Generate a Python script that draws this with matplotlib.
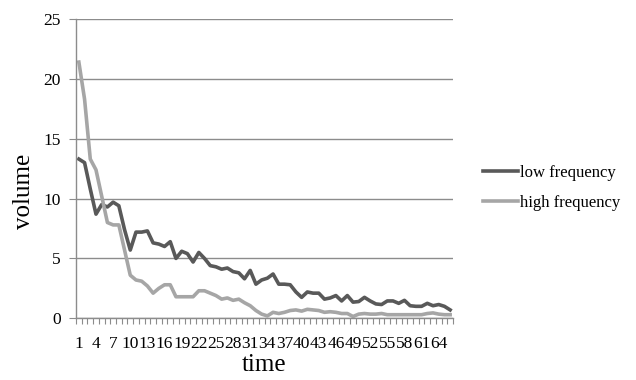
import numpy as np
import matplotlib.pyplot as plt

# valores
low_freq = [13.3, 13.0, 10.8, 8.7, 9.5, 9.3, 9.7, 9.4, 7.4, 5.7,
            7.2, 7.2, 7.3, 6.3, 6.2, 6.0, 6.4, 5.0, 5.6, 5.4,
            4.7, 5.5, 5.0, 4.4, 4.3, 4.1, 4.2, 3.9, 3.8, 3.3,
            4.0, 2.85, 3.2, 3.35, 3.7, 2.85, 2.85, 2.8, 2.2, 1.75,
            2.2, 2.1, 2.1, 1.6, 1.7, 1.9, 1.45, 1.9, 1.35, 1.4,
            1.75, 1.45, 1.2, 1.15, 1.45, 1.45, 1.25, 1.5, 1.05, 1.0,
            1.0, 1.25, 1.05, 1.15, 1.0, 0.7]
high_freq = [21.4, 18.3, 13.3, 12.4, 10.2, 8.0, 7.8, 7.8, 5.7, 3.6,
             3.2, 3.1, 2.7, 2.1, 2.5, 2.8, 2.8, 1.8, 1.8, 1.8,
             1.8, 2.3, 2.3, 2.1, 1.9, 1.6, 1.7, 1.5, 1.6, 1.3,
             1.05, 0.65, 0.35, 0.2, 0.5, 0.4, 0.5, 0.65, 0.7, 0.6,
             0.75, 0.7, 0.65, 0.5, 0.55, 0.5, 0.4, 0.4, 0.15, 0.35,
             0.4, 0.35, 0.35, 0.4, 0.3, 0.3, 0.3, 0.3, 0.3, 0.3,
             0.3, 0.4, 0.45, 0.35, 0.3, 0.3]
series_labels = ['low frequency', 'high frequency']
y_ticks = [0, 5, 10, 15, 20, 25]

plt.rcParams['font.family'] = ['Liberation Serif', 'DejaVu Serif']

n = len(low_freq)
x = np.arange(1, n + 1)

fig = plt.figure(figsize=(6.36, 3.8), dpi=100)
ax = fig.add_axes([76 / 636, 1 - 318.3 / 380, (453 - 76) / 636, (318.3 - 19) / 380])

ax.plot(x, low_freq, color='#595959', linewidth=2.6, label=series_labels[0],
        solid_joinstyle='round')
ax.plot(x, high_freq, color='#a6a6a6', linewidth=2.6, label=series_labels[1],
        solid_joinstyle='round')

ax.set_xlim(0.5, n + 0.5)
ax.set_ylim(0, 25)
ax.set_yticks(y_ticks)
ax.yaxis.grid(True, color='#8c8c8c', linewidth=1.0)
ax.set_axisbelow(True)

# marcas entre categorias y etiquetas cada 3
etiquetas = x[::3]
ax.set_xticks(etiquetas)
ax.set_xticklabels([str(v) for v in etiquetas])
ax.set_xticks(np.arange(0.5, n + 1, 1), minor=True)
ax.tick_params(axis='x', which='major', length=0, pad=13, labelsize=12.5)
ax.tick_params(axis='x', which='minor', length=4, width=0.8, color='#8c8c8c', direction='out')
ax.tick_params(axis='y', length=5, width=0.8, color='#8c8c8c', pad=6, labelsize=12.5)

for s in ['top', 'right']:
    ax.spines[s].set_visible(False)
for s in ['left', 'bottom']:
    ax.spines[s].set_color('#8c8c8c')
    ax.spines[s].set_linewidth(1.0)

ax.set_xlabel('time', fontsize=18, labelpad=1)
# el titulo del eje y esta algo por debajo del centro
fig.text(24 / 636, 1 - 191 / 380, 'volume', fontsize=18, rotation=90,
         ha='center', va='center')

ax.legend(loc='center left', bbox_to_anchor=(483 / 636, 1 - 188 / 380),
          bbox_transform=fig.transFigure, frameon=False, fontsize=12,
          handlelength=2.1, handletextpad=0.1, labelspacing=0.85, borderpad=0,
          borderaxespad=0)

fig.savefig('out.png', dpi=100)
